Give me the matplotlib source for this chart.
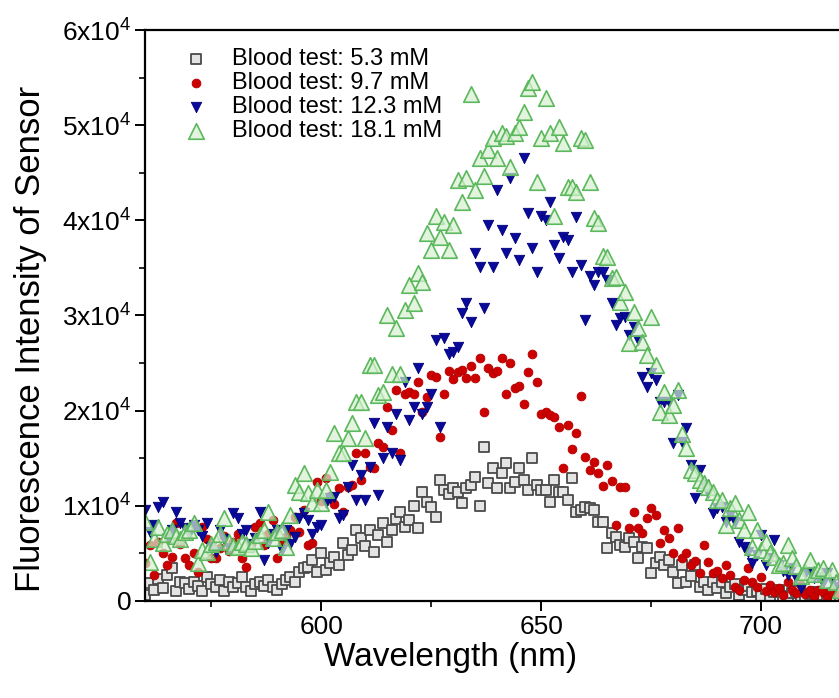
import numpy as np
import matplotlib
matplotlib.use('Agg')
import matplotlib.pyplot as plt
from matplotlib.ticker import MultipleLocator

plt.rcParams['font.family'] = ['Liberation Sans', 'DejaVu Sans']
plt.rcParams['mathtext.fontset'] = 'custom'
plt.rcParams['mathtext.rm'] = 'Liberation Sans'
plt.rcParams['mathtext.it'] = 'Liberation Sans'

# wavelength grid of the spectra (nm), 1 nm step
WAVELENGTH = np.arange(560, 719)

# intensities, in units of 1e3 counts
GLUCOSE_5_3 = [
    0.6, 1.9, 1.2, 2.3, 1.4, 2.7, 3.5, 1.0, 2.0, 1.9,
    1.3, 2.0, 1.6, 1.0, 2.5, 1.8, 1.5, 2.2, 1.0, 2.0,
    1.5, 1.9, 2.5, 1.5, 1.0, 1.8, 2.0, 1.6, 2.2, 1.5,
    1.2, 1.8, 2.2, 2.5, 2.0, 3.0, 3.5, 3.6, 4.3, 3.0,
    5.0, 3.3, 4.0, 4.6, 3.8, 6.1, 4.8, 5.4, 7.5, 6.6,
    5.8, 7.5, 5.1, 6.9, 8.2, 6.2, 7.5, 8.6, 9.3, 7.8,
    8.5, 10.0, 7.7, 11.5, 10.4, 9.9, 8.8, 12.7, 11.7, 11.2,
    11.9, 11.5, 10.3, 11.9, 12.2, 13.0, 10.0, 16.2, 12.4, 14.0,
    11.9, 13.5, 14.5, 11.9, 12.5, 14.0, 12.7, 11.7, 15.0, 12.2,
    11.7, 11.7, 10.4, 12.7, 11.5, 11.5, 10.6, 12.9, 9.3, 9.6,
    9.9, 9.8, 9.6, 8.3, 8.3, 5.6, 7.1, 6.7, 5.9, 5.7,
    6.6, 6.2, 4.5, 5.7, 5.6, 2.9, 4.0, 4.6, 3.8, 4.3,
    3.0, 1.9, 3.8, 2.0, 2.6, 3.8, 1.5, 2.0, 1.2, 2.0,
    1.4, 2.0, 0.8, 1.5, 1.8, 0.6, 1.2, 1.6, 0.9, 1.1,
    0.5, 1.3, 0.4, 0.9, 1.2, 0.5, 0.3, 0.8, 1.0, 0.4,
    0.2, 0.7, 0.9, 0.3, 0.6, 0.2, 0.8, 0.4, 0.5,
]

GLUCOSE_9_7 = [
    4.0, 5.9, 2.7, 6.2, 5.0, 3.8, 4.6, 8.2, 6.0, 4.5,
    3.8, 5.0, 3.0, 7.8, 6.5, 4.5, 4.5, 5.6, 6.8, 5.3,
    6.2, 7.0, 4.5, 3.6, 6.0, 7.8, 8.2, 5.9, 7.0, 8.5,
    4.5, 6.0, 6.7, 7.5, 8.8, 7.2, 9.6, 5.9, 6.1, 12.5,
    10.5, 12.9, 11.0, 10.2, 11.9, 9.3, 12.0, 12.2, 15.5, 12.7,
    15.5, 14.1, 14.0, 16.6, 16.2, 20.4, 18.0, 22.2, 15.5, 21.8,
    22.0, 21.8, 23.0, 19.9, 21.4, 23.7, 23.5, 17.2, 21.8, 24.2,
    23.3, 24.1, 24.3, 23.4, 24.7, 23.4, 25.5, 19.9, 24.5, 24.0,
    24.2, 25.5, 21.8, 25.0, 22.4, 22.6, 20.7, 24.1, 26.0, 23.0,
    19.7, 19.9, 19.5, 19.3, 18.3, 14.0, 18.5, 16.0, 17.6, 21.5,
    15.1, 13.8, 14.6, 13.4, 12.1, 14.3, 12.6, 8.0, 12.0, 12.0,
    7.7, 9.3, 7.7, 7.1, 8.7, 9.8, 9.0, 6.1, 7.5, 6.6,
    5.0, 7.7, 4.5, 5.0, 3.8, 4.2, 2.9, 5.9, 4.1, 2.9,
    3.2, 2.4, 3.8, 2.7, 1.5, 1.2, 2.2, 3.5, 2.0, 1.5,
    2.5, 1.0, 1.7, 0.9, 1.4, 0.6, 2.0, 1.2, 0.8, 1.7,
    0.7, 1.2, 0.5, 1.2, 0.9, 0.4, 0.8, 1.4, 0.6,
]

GLUCOSE_12_3 = [
    9.6, 7.2, 8.0, 9.9, 10.4, 6.6, 7.5, 9.3, 8.2, 7.7,
    7.0, 8.0, 7.5, 6.8, 8.2, 5.7, 5.1, 7.5, 6.5, 5.6,
    9.2, 8.7, 7.0, 7.5, 6.0, 6.6, 9.3, 4.3, 6.1, 7.0,
    7.5, 5.4, 7.5, 6.0, 6.7, 8.7, 9.2, 8.5, 7.0, 7.8,
    8.0, 10.3, 10.8, 10.9, 8.7, 9.0, 12.0, 14.3, 10.6, 13.2,
    10.6, 14.1, 18.7, 11.1, 15.0, 18.3, 15.5, 19.7, 14.8, 23.0,
    19.0, 20.4, 24.5, 19.7, 20.4, 21.8, 27.4, 18.3, 27.6, 26.0,
    26.2, 26.7, 30.3, 31.3, 29.3, 36.6, 35.1, 30.8, 39.5, 35.1,
    43.2, 39.0, 36.6, 44.4, 38.1, 35.8, 46.6, 40.8, 37.1, 34.6,
    40.5, 40.0, 41.9, 37.4, 36.0, 38.2, 37.9, 34.6, 40.3, 35.3,
    29.5, 34.2, 33.2, 34.6, 34.6, 33.7, 31.3, 29.0, 29.7, 29.8,
    27.9, 28.8, 27.4, 23.5, 22.5, 24.0, 23.2, 20.9, 20.9, 20.9,
    16.6, 21.6, 16.7, 18.2, 14.3, 10.8, 13.8, 12.2, 11.3, 9.2,
    9.8, 9.9, 8.3, 9.0, 8.3, 6.2, 5.7, 5.1, 4.0, 4.8,
    6.9, 3.8, 4.5, 6.4, 3.8, 3.2, 2.7, 3.5, 2.4, 1.4,
    2.8, 3.0, 2.4, 2.5, 1.9, 2.9, 2.0, 1.5, 2.2,
]

GLUCOSE_18_1 = [
    8.3, 4.1, 6.5, 7.8, 6.1, 7.0, 7.5, 6.8, 6.5, 7.2,
    7.5, 8.2, 4.0, 5.4, 5.1, 6.0, 6.2, 7.0, 8.7, 6.2,
    5.8, 5.7, 6.2, 6.0, 5.6, 6.3, 6.9, 7.5, 9.3, 6.6,
    7.2, 7.5, 5.7, 9.0, 12.2, 11.5, 13.4, 11.3, 10.3, 11.7,
    10.3, 11.7, 13.6, 17.6, 15.5, 15.5, 17.1, 18.7, 20.9, 20.9,
    17.1, 24.8, 24.8, 21.6, 22.0, 30.0, 23.9, 28.7, 23.9, 30.6,
    33.2, 31.3, 34.5, 33.5, 38.7, 36.9, 40.5, 38.2, 39.8, 36.9,
    39.5, 44.2, 41.9, 44.4, 53.3, 43.2, 46.5, 44.7, 47.4, 48.7,
    46.6, 49.2, 48.9, 45.6, 49.2, 49.8, 51.4, 53.9, 54.5, 44.0,
    48.7, 52.9, 49.2, 40.5, 49.8, 48.1, 43.5, 43.5, 43.0, 48.7,
    48.4, 44.0, 40.2, 39.7, 36.3, 36.1, 33.9, 34.0, 31.4, 32.5,
    27.1, 30.4, 28.7, 27.2, 25.8, 29.8, 24.8, 19.9, 22.0, 19.5,
    20.6, 22.2, 17.5, 16.1, 13.8, 13.4, 12.7, 12.4, 12.0, 11.5,
    10.6, 10.6, 8.0, 9.8, 10.3, 8.5, 7.5, 9.3, 5.7, 7.5,
    5.4, 6.2, 5.0, 4.6, 3.8, 4.0, 5.9, 4.5, 3.7, 2.6,
    3.0, 4.3, 2.8, 3.3, 3.5, 2.2, 3.3, 2.0, 1.2,
]

SERIES_LABELS = [
    'Blood test: 5.3 mM',
    'Blood test: 9.7 mM',
    'Blood test: 12.3 mM',
    'Blood test: 18.1 mM',
]

Y_TICKS = [0, 1e4, 2e4, 3e4, 4e4, 5e4, 6e4]
Y_TICK_LABELS = ['0', '1x10$^4$', '2x10$^4$', '3x10$^4$', '4x10$^4$', '5x10$^4$', '6x10$^4$']
X_TICKS = [600, 650, 700]

MARKER_PARAMS = (
    {'marker': 's', 's': 62, 'facecolor': '#e4e4e4', 'edgecolor': '#4a4a4a', 'linewidths': 1.3},
    {'marker': 'o', 's': 40, 'facecolor': '#cc0000', 'edgecolor': '#b00000', 'linewidths': 0.6},
    {'marker': 'v', 's': 56, 'facecolor': '#0a0a9a', 'edgecolor': '#00007a', 'linewidths': 0.6},
    {'marker': '^', 's': 125, 'facecolor': (0.84, 0.94, 0.82, 0.7), 'edgecolor': '#5cb85c', 'linewidths': 1.2},
)

PLOT_X_LABEL = 'Wavelength (nm)'
PLOT_Y_LABEL = 'Fluorescence Intensity of Sensor'


def make_plot(output_filename):
    fig = plt.figure(figsize=(8.39, 6.98), dpi=100)
    ax = fig.add_axes([0.173, 0.139, 0.827, 0.818])

    series = [GLUCOSE_5_3, GLUCOSE_9_7, GLUCOSE_12_3, GLUCOSE_18_1]
    for i, values in enumerate(series):
        ax.scatter(WAVELENGTH, np.array(values) * 1000, label=SERIES_LABELS[i], **MARKER_PARAMS[i])

    ax.set_xlim(560, 717.7)
    ax.set_ylim(0, 6e4)
    ax.set_xticks(X_TICKS)
    ax.xaxis.set_minor_locator(MultipleLocator(25))
    ax.set_yticks(Y_TICKS)
    ax.set_yticklabels(Y_TICK_LABELS)
    ax.yaxis.set_minor_locator(MultipleLocator(5000))

    ax.tick_params(which='major', direction='out', length=7, width=1.4, labelsize=19, pad=3)
    ax.tick_params(which='minor', direction='out', length=4, width=1.2)
    ax.spines['right'].set_visible(False)
    for side in ('left', 'bottom', 'top'):
        ax.spines[side].set_linewidth(1.6)

    ax.set_xlabel(PLOT_X_LABEL, fontsize=24, labelpad=2)
    ax.set_ylabel(PLOT_Y_LABEL, fontsize=25, labelpad=11)
    ax.xaxis.label.set_x(0.44)
    ax.yaxis.label.set_y(0.459)

    ax.legend(loc='upper left', frameon=False, fontsize=17, handletextpad=0.5,
              labelspacing=0.08, borderaxespad=0.3, bbox_to_anchor=(0.016, 0.997),
              scatterpoints=1)

    fig.savefig(output_filename, dpi=100)


def main():
    make_plot('out.png')


if __name__ == '__main__':
    main()
